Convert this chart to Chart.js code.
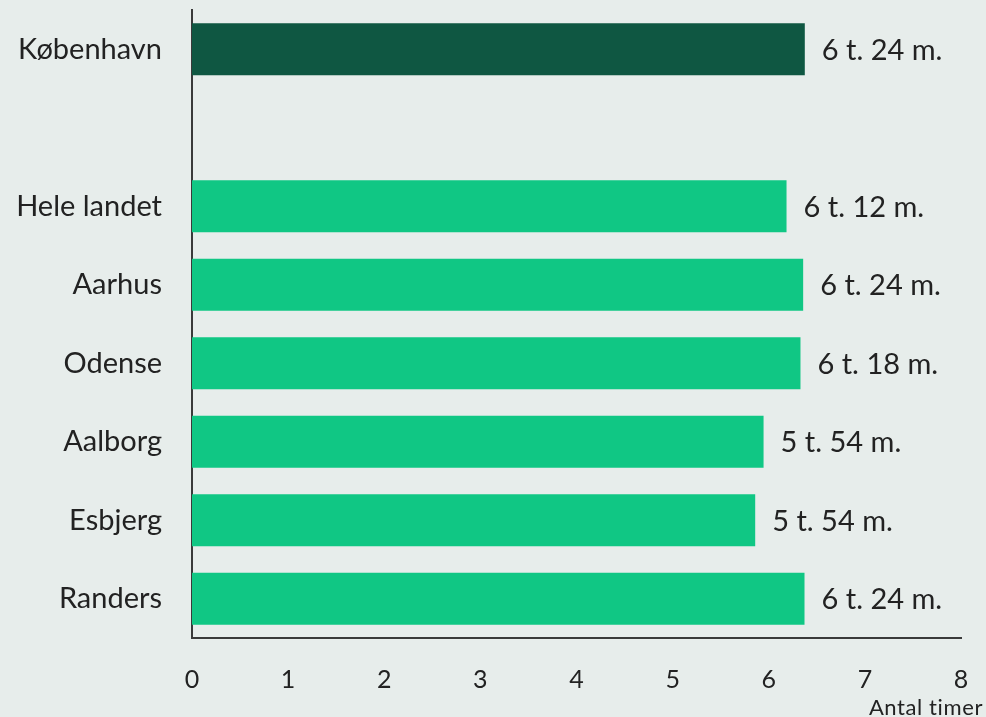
<!DOCTYPE html>
<html lang="da">
<head>
<meta charset="utf-8">
<script src="https://cdn.jsdelivr.net/npm/chart.js@4.4.1/dist/chart.umd.min.js"></script>
<style>
  html, body { margin: 0; padding: 0; background: #e7edeb; }
  #wrap { width: 986px; height: 717px; position: relative; }
</style>
</head>
<body>
<div id="wrap"><canvas id="c" width="986" height="717"></canvas></div>
<script>
// Daily hours by city; the blank entry leaves a gap below København
const categories = ['København', '', 'Hele landet', 'Aarhus', 'Odense', 'Aalborg', 'Esbjerg', 'Randers'];
const hours = [6.375, null, 6.185, 6.358, 6.33, 5.946, 5.859, 6.372];
const barColors = ['#0f5742', null, '#10c784', '#10c784', '#10c784', '#10c784', '#10c784', '#10c784'];
const xTicks = [0, 1, 2, 3, 4, 5, 6, 7, 8];
const xTitle = 'Antal timer';

const FONT = 'Lato, "Open Sans", sans-serif';
const WEIGHT = 400;
const TEXT = '#222222';

// hours -> "6 t. 24 m." rounded to a tenth of an hour
function fmt(h) {
  const tenths = Math.round(h * 10);
  const t = Math.floor(tenths / 10);
  const m = (tenths % 10) * 6;
  return t + ' t. ' + m + ' m.';
}

// keep the plot area fixed by the layout padding only
function noScalePadding(scale) {
  scale.paddingTop = 0;
  scale.paddingBottom = 0;
  scale.paddingLeft = 0;
  scale.paddingRight = 0;
}

const valueLabels = {
  id: 'valueLabels',
  afterDatasetsDraw(chart) {
    const ctx = chart.ctx;
    const meta = chart.getDatasetMeta(0);
    ctx.save();
    ctx.font = WEIGHT + ' 29px ' + FONT;
    ctx.fillStyle = TEXT;
    ctx.textAlign = 'left';
    ctx.textBaseline = 'middle';
    meta.data.forEach((bar, i) => {
      if (hours[i] == null) return;
      ctx.fillText(fmt(hours[i]), bar.x + 17, bar.y + 1);
    });
    // axis caption under the last tick
    const xs = chart.scales.x;
    ctx.font = WEIGHT + ' 22px ' + FONT;
    ctx.letterSpacing = '0.6px';
    ctx.textAlign = 'right';
    ctx.textBaseline = 'alphabetic';
    ctx.fillText(xTitle, xs.right + 22, 715);
    ctx.restore();
  }
};

new Chart(document.getElementById('c'), {
  type: 'bar',
  data: {
    labels: categories,
    datasets: [{
      data: hours,
      backgroundColor: barColors,
      borderWidth: 0,
      categoryPercentage: 1,
      barPercentage: 0.665
    }]
  },
  options: {
    indexAxis: 'y',
    responsive: false,
    animation: false,
    layout: { padding: { left: 0, right: 25, top: 10, bottom: 0 } },
    plugins: { legend: { display: false }, tooltip: { enabled: false } },
    scales: {
      x: {
        min: 0, max: 8,
        afterBuildTicks(scale) { scale.ticks = xTicks.map(v => ({ value: v })); },
        afterFit(scale) { scale.height = 79; noScalePadding(scale); },
        grid: { display: false, drawTicks: false },
        border: { display: true, color: '#3a3a3a', width: 2 },
        ticks: { color: TEXT, font: { family: FONT, size: 25, weight: WEIGHT }, padding: 27, maxRotation: 0 }
      },
      y: {
        afterFit(scale) { scale.width = 192; noScalePadding(scale); },
        grid: { display: false, drawTicks: false },
        border: { display: true, color: '#3a3a3a', width: 2 },
        ticks: { color: TEXT, font: { family: FONT, size: 29, weight: WEIGHT }, padding: 30, autoSkip: false }
      }
    }
  },
  plugins: [valueLabels]
});
</script>
</body>
</html>
